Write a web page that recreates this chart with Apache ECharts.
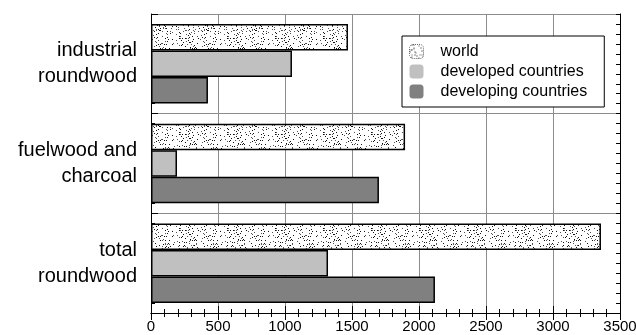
<!DOCTYPE html>
<html><head><meta charset="utf-8">
<script src="https://cdn.jsdelivr.net/npm/echarts@6/dist/echarts.min.js"></script>
<style>html,body{margin:0;padding:0;background:#fff}#c{width:636px;height:335px}</style>
</head><body><div id="c"></div>
<script>
const categories = ['industrial\nroundwood', 'fuelwood and\ncharcoal', 'total\nroundwood'];
const seriesNames = ['world', 'developed countries', 'developing countries'];
const world = [1470, 1896, 3358];
const developed = [1052, 194, 1321];
const developing = [425, 1701, 2119];
const xTicks = [0, 500, 1000, 1500, 2000, 2500, 3000, 3500];

// stipple pattern for "world" (deterministic hash, styling only)
const PS = 48;
const pc = document.createElement('canvas');
pc.width = PS; pc.height = PS;
const g = pc.getContext('2d');
g.fillStyle = '#fff'; g.fillRect(0, 0, PS, PS);
function hash(x, y) {
  let h = (x * 374761393 + y * 668265263) | 0;
  h = (h ^ (h >>> 13)) * 1274126177 | 0;
  return ((h ^ (h >>> 16)) >>> 0) / 4294967296;
}
for (let y = 0; y < PS; y += 2) {
  for (let x = 0; x < PS; x += 2) {
    const v = hash(x, y);
    if (v < 0.42) {
      g.fillStyle = v < 0.2 ? '#111' : '#555';
      g.fillRect(x + (v * 10 | 0) % 2, y + (v * 20 | 0) % 2, 1, 1);
    }
  }
}

const FONT = 'Liberation Sans, Arial, sans-serif';
const black = { color: '#000', width: 1 };
const chart = echarts.init(document.getElementById('c'));
chart.setOption({
  animation: false,
  textStyle: { fontFamily: FONT },
  grid: { left: 151, right: 16, top: 14, bottom: 22, outerBoundsMode: 'none', containLabel: false },
  legend: {
    orient: 'vertical', left: 402, top: 36,
    itemWidth: 14, itemHeight: 14, itemGap: 1,
    padding: [6, 17, 6, 7],
    borderColor: '#000', borderWidth: 1, backgroundColor: '#fff',
    textStyle: { fontSize: 16, lineHeight: 19, color: '#000', fontFamily: FONT, padding: [0, 0, 0, 12] },
    data: [
      { name: seriesNames[0], itemStyle: { borderWidth: 1, borderColor: '#666', borderType: 'dotted' } },
      { name: seriesNames[1], itemStyle: { borderWidth: 0 } },
      { name: seriesNames[2], itemStyle: { borderWidth: 0 } }
    ]
  },
  xAxis: [
    {
      type: 'value', min: xTicks[0], max: xTicks[xTicks.length - 1], interval: 500, position: 'bottom',
      axisLine: { show: true, lineStyle: black },
      axisTick: { show: true, inside: true, length: 7, lineStyle: black },
      minorTick: { show: true, splitNumber: 5, length: 4, lineStyle: black },
      splitLine: { show: true, lineStyle: { color: '#8c8c8c', width: 1 } },
      axisLabel: { fontSize: 15, color: '#000', margin: 6, fontFamily: FONT, formatter: v => String(v) }
    },
    {
      type: 'value', min: xTicks[0], max: xTicks[xTicks.length - 1], interval: 500, position: 'top',
      axisLine: { show: true, lineStyle: black },
      axisTick: { show: true, inside: true, length: 7, lineStyle: black },
      minorTick: { show: true, splitNumber: 5, length: 4, lineStyle: black },
      splitLine: { show: false },
      axisLabel: { show: false }
    }
  ],
  yAxis: [
    {
      type: 'category', data: categories, inverse: true, position: 'left',
      axisLine: { show: true, lineStyle: black },
      axisTick: { show: true, inside: true, length: 7, lineStyle: black },
      splitLine: { show: true, lineStyle: { color: '#8c8c8c', width: 1 } },
      axisLabel: { fontSize: 20, lineHeight: 26, color: '#000', margin: 14, align: 'right', fontFamily: FONT }
    },
    {
      type: 'value', min: 0, max: 30, interval: 1, position: 'left',
      axisLine: { show: false },
      axisTick: { show: true, inside: true, length: 4, lineStyle: black },
      splitLine: { show: false }, axisLabel: { show: false }
    },
    {
      type: 'value', min: 0, max: 30, interval: 1, position: 'right',
      axisLine: { show: true, lineStyle: black },
      axisTick: { show: true, inside: true, length: 4, lineStyle: black },
      splitLine: { show: false }, axisLabel: { show: false }
    }
  ],
  series: [
    { name: seriesNames[0], type: 'bar', data: world, barWidth: 26.5, barGap: '0%',
      itemStyle: { color: { image: pc, repeat: 'repeat' }, borderColor: '#000', borderWidth: 1.5 } },
    { name: seriesNames[1], type: 'bar', data: developed, barWidth: 26.5, barGap: '0%',
      itemStyle: { color: '#c0c0c0', borderColor: '#000', borderWidth: 1.5 } },
    { name: seriesNames[2], type: 'bar', data: developing, barWidth: 26.5, barGap: '0%',
      itemStyle: { color: '#808080', borderColor: '#000', borderWidth: 1.5 } }
  ]
});
</script></body></html>
